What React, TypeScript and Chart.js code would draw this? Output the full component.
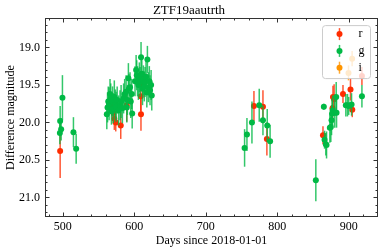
import React, { useEffect, useRef } from "react";
import { Chart, registerables } from "chart.js";

Chart.register(...registerables);

const TITLE = "ZTF19aautrth";
const X_LABEL = "Days since 2018-01-01";
const Y_LABEL = "Difference magnitude";

const X_MIN = 475;
const X_MAX = 941;
const Y_MIN = 18.61;
const Y_MAX = 21.26;
const X_TICKS = [500, 600, 700, 800, 900];
const Y_TICKS = [19.0, 19.5, 20.0, 20.5, 21.0];

const rDays = [496.2, 568.5, 570.7, 572, 574, 581, 589.4, 609, 609.3, 611.8, 767.4, 780, 785.5, 864, 877.3, 878, 879.6, 892, 902.5, 905, 918.5];
const rMags = [20.38, 19.77, 19.87, 19.95, 20.0, 20.04, 19.77, 19.65, 19.89, 19.49, 19.78, 19.79, 20.22, 20.17, 19.81, 19.66, 19.69, 19.62, 19.56, 19.83, 19.38];
const rErrs = [0.36, 0.15, 0.15, 0.15, 0.12, 0.18, 0.22, 0.2, 0.22, 0.15, 0.2, 0.22, 0.22, 0.12, 0.15, 0.15, 0.2, 0.12, 0.15, 0.1, 0.12];

const gDays = [
  495.8, 496.2, 497.6, 499.4, 514.8, 518.6,
  561.5, 562.5, 563.5, 564.7, 566, 567, 568, 569.5, 570.7, 572, 573.5, 574.5, 576, 578, 580, 581.5, 583.3, 585, 586.5, 588.5, 589.5, 590.3, 591.7, 592.5, 594, 595, 596.4, 597,
  601, 602.5, 603.4, 604.5, 605.7, 607, 608, 609.4, 610.5, 611.5, 612.7, 614, 615, 616.4, 617.5, 618.3, 619.6, 621, 622, 623.5, 624.4,
  754.3, 757.6, 764.6, 774.8, 780, 786, 790,
  854, 865.2, 866.2, 868, 869, 873.6, 875, 876, 876.8, 877.5, 880.5, 882.5, 883, 896, 898.3, 900, 904, 918.5,
];
const gMags = [
  20.14, 19.98, 20.09, 19.67, 20.13, 20.35,
  19.89, 19.8, 19.72, 19.75, 19.62, 19.68, 19.85, 19.72, 19.81, 19.66, 19.76, 19.79, 19.7, 19.84, 19.77, 19.72, 19.81, 19.68, 19.62, 19.59, 19.8, 19.7, 19.41, 19.55, 19.53, 19.72, 19.62, 19.88,
  19.45, 19.3, 19.37, 19.45, 19.5, 19.4, 19.46, 19.13, 19.35, 19.55, 19.44, 19.52, 19.46, 19.39, 19.6, 19.16, 19.53, 19.45, 19.57, 19.5, 19.64,
  20.34, 20.16, 20.0, 19.77, 19.97, 20.04, 20.25,
  20.77, 19.79, 20.23, 20.29, 20.3, 20.07, 20.06, 19.97, 19.88, 19.84, 19.87, 19.66, 19.87, 19.77, 19.77, 19.78, 19.76, 19.65,
];
const gErrs = [
  0.15, 0.2, 0.15, 0.3, 0.2, 0.2,
  0.2, 0.2, 0.2, 0.22, 0.2, 0.2, 0.18, 0.2, 0.2, 0.22, 0.2, 0.2, 0.18, 0.2, 0.2, 0.22, 0.2, 0.2, 0.2, 0.22, 0.2, 0.2, 0.2, 0.2, 0.2, 0.22, 0.2, 0.2,
  0.2, 0.2, 0.2, 0.2, 0.2, 0.2, 0.2, 0.2, 0.2, 0.22, 0.2, 0.2, 0.2, 0.2, 0.2, 0.18, 0.2, 0.2, 0.2, 0.2, 0.2,
  0.25, 0.22, 0.28, 0.22, 0.2, 0.22, 0.22,
  0.28, 0.04, 0.12, 0.15, 0.18, 0.2, 0.2, 0.2, 0.2, 0.2, 0.2, 0.2, 0.2, 0.15, 0.15, 0.12, 0.15, 0.15,
];

const iDays = [899.7, 904.8];
const iMags = [19.34, 19.15];
const iErrs = [0.1, 0.1];

const RED = "#FF2C00";
const GREEN = "#00B945";
const ORANGE = "#FF9500";

const FONT = "'Liberation Serif', 'DejaVu Serif', serif";

const series = [
  { label: "r", days: rDays, mags: rMags, errs: rErrs, color: RED, bar: "rgba(255,44,0,0.8)" },
  { label: "g", days: gDays, mags: gMags, errs: gErrs, color: GREEN, bar: "rgba(0,185,69,0.8)" },
  { label: "i", days: iDays, mags: iMags, errs: iErrs, color: ORANGE, bar: "rgba(255,149,0,0.8)" },
];

const errorBarPlugin = {
  id: "errorBars",
  beforeDatasetDraw(chart: any, args: any) {
    const s = series[args.index];
    if (!s) return;
    const { ctx, chartArea, scales } = chart;
    ctx.save();
    ctx.beginPath();
    ctx.rect(chartArea.left, chartArea.top, chartArea.right - chartArea.left, chartArea.bottom - chartArea.top);
    ctx.clip();
    ctx.strokeStyle = s.bar;
    ctx.lineWidth = 1.5;
    for (let j = 0; j < s.days.length; j++) {
      const x = scales.x.getPixelForValue(s.days[j]);
      const y1 = scales.y.getPixelForValue(s.mags[j] - s.errs[j]);
      const y2 = scales.y.getPixelForValue(s.mags[j] + s.errs[j]);
      ctx.beginPath();
      ctx.moveTo(x, y1);
      ctx.lineTo(x, y2);
      ctx.stroke();
    }
    ctx.restore();
  },
};

const frameTicksPlugin = {
  id: "frameTicks",
  afterDatasetsDraw(chart: any) {
    const { ctx, chartArea: a, scales } = chart;
    ctx.save();
    ctx.strokeStyle = "#333";
    ctx.lineWidth = 1;
    ctx.strokeRect(Math.round(a.left) + 0.5, Math.round(a.top) + 0.5, Math.round(a.right - a.left) - 1, Math.round(a.bottom - a.top) - 1);
    const tick = (x1: number, y1: number, x2: number, y2: number) => {
      ctx.beginPath();
      ctx.moveTo(x1, y1);
      ctx.lineTo(x2, y2);
      ctx.stroke();
    };
    const top = Math.round(a.top) + 0.5;
    const bot = Math.round(a.bottom) - 0.5;
    const left = Math.round(a.left) + 0.5;
    const right = Math.round(a.right) - 0.5;
    for (let v = 480; v <= X_MAX; v += 20) {
      const major = v % 100 === 0;
      const L = major ? 4 : 2;
      const x = Math.round(scales.x.getPixelForValue(v)) + 0.5;
      tick(x, bot, x, bot - L);
      tick(x, top, x, top + L);
    }
    for (let k = 187; k <= 212; k++) {
      const v = k / 10;
      const major = k % 5 === 0;
      const L = major ? 4 : 2;
      const y = Math.round(scales.y.getPixelForValue(v)) + 0.5;
      tick(left, y, left + L, y);
      tick(right, y, right - L, y);
    }
    ctx.restore();
  },
  afterDraw(chart: any) {
    const { ctx, chartArea: a } = chart;
    const bx = a.right - 55.5;
    const by = a.top + 7.5;
    const bw = 48;
    const bh = 53;
    ctx.save();
    ctx.beginPath();
    ctx.roundRect(bx, by, bw, bh, 3);
    ctx.fillStyle = "rgba(255,255,255,0.8)";
    ctx.fill();
    ctx.strokeStyle = "#cccccc";
    ctx.lineWidth = 1;
    ctx.stroke();
    series.forEach((s, k) => {
      const mx = bx + 17;
      const my = by + 8.5 + k * 16.8;
      ctx.strokeStyle = s.bar;
      ctx.lineWidth = 1.5;
      ctx.beginPath();
      ctx.moveTo(mx, my - 6);
      ctx.lineTo(mx, my + 6);
      ctx.stroke();
      ctx.fillStyle = s.color;
      ctx.beginPath();
      ctx.arc(mx, my, 3, 0, Math.PI * 2);
      ctx.fill();
      ctx.fillStyle = "#000";
      ctx.font = `12px ${FONT}`;
      ctx.textBaseline = "middle";
      ctx.textAlign = "left";
      ctx.fillText(s.label, bx + 36, my);
    });
    ctx.restore();
  },
};

export default function App() {
  const ref = useRef<HTMLCanvasElement | null>(null);
  useEffect(() => {
    if (!ref.current) return;
    const chart = new Chart(ref.current, {
      type: "scatter",
      data: {
        datasets: series.map((s, k) => ({
          label: s.label,
          data: s.days.map((d, j) => ({ x: d, y: s.mags[j] })),
          backgroundColor: s.color,
          borderColor: s.color,
          pointRadius: 3,
          pointBorderWidth: 0,
          pointHoverRadius: 3,
          showLine: false,
          order: 3 - k,
        })),
      },
      options: {
        animation: false,
        responsive: false,
        maintainAspectRatio: false,
        events: [],
        layout: { padding: { left: 0, right: 4, top: 0, bottom: 0 } },
        plugins: {
          legend: { display: false },
          tooltip: { enabled: false },
          title: {
            display: true,
            text: TITLE,
            color: "#000",
            font: { family: FONT, size: 13, weight: "normal" },
            padding: { top: 2.5, bottom: 0 },
          },
        },
        scales: {
          x: {
            type: "linear",
            min: X_MIN,
            max: X_MAX,
            grid: { display: false, drawTicks: false },
            border: { display: false },
            afterFit: (s: any) => { s.height = 35; },
            afterBuildTicks: (s: any) => { s.ticks = X_TICKS.map((v) => ({ value: v })); },
            ticks: {
              color: "#000",
              padding: 3,
              maxRotation: 0,
              font: { family: FONT, size: 12 },
              callback: (v: any) => String(v),
            },
            title: {
              display: true,
              text: X_LABEL,
              color: "#000",
              font: { family: FONT, size: 12 },
              padding: { top: 0, bottom: 4 },
            },
          },
          y: {
            type: "linear",
            reverse: true,
            min: Y_MIN,
            max: Y_MAX,
            grid: { display: false, drawTicks: false },
            border: { display: false },
            afterFit: (s: any) => { s.width = 45; },
            afterBuildTicks: (s: any) => { s.ticks = Y_TICKS.map((v) => ({ value: v })); },
            ticks: {
              color: "#000",
              padding: 5,
              font: { family: FONT, size: 12 },
              callback: (v: any) => Number(v).toFixed(1),
            },
            title: {
              display: true,
              text: Y_LABEL,
              color: "#000",
              font: { family: FONT, size: 12 },
              padding: { top: 4, bottom: 0 },
            },
          },
        },
      },
      plugins: [errorBarPlugin, frameTicksPlugin],
    });
    return () => chart.destroy();
  }, []);
  return (
    <div style={{ position: "absolute", left: 0, top: 0, width: 382, height: 252 }}>
      <canvas ref={ref} width={382} height={252} style={{ display: "block", width: 382, height: 252 }} />
    </div>
  );
}
